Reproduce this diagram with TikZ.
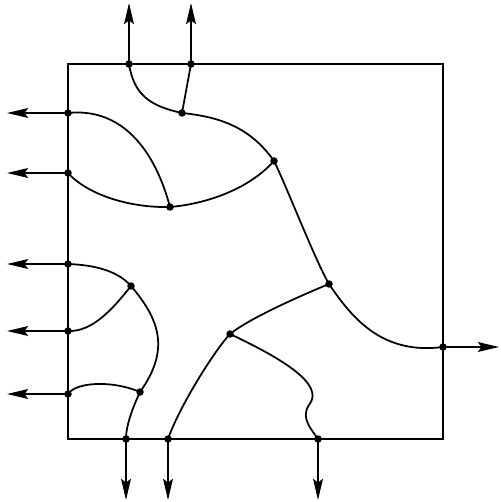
\documentclass[tikz,border=0pt]{standalone}
\usepackage{tikz}
\usetikzlibrary{arrows.meta}

\begin{document}
\begin{tikzpicture} [x = 0.02cm, y = -0.02cm,
	edge/.style = {line width = 1pt},
	exit/.style = {line width = 1pt, -{Stealth[length = 12pt, width = 5.6pt, inset = 2pt]}}]
	\useasboundingbox (0,0) rectangle (500,502);
	\draw [line width = 1.3pt] (68,64) rectangle (443,439);

	% points on the boundary
	\coordinate (t1) at (129,64);
	\coordinate (t2) at (191,64);
	\coordinate (l1) at (68,113);
	\coordinate (l2) at (68,173);
	\coordinate (l3) at (68,264);
	\coordinate (l4) at (68,331);
	\coordinate (l5) at (68,394);
	\coordinate (b1) at (126,439);
	\coordinate (b2) at (168,439);
	\coordinate (b3) at (318,439);
	\coordinate (r1) at (443,347);
	% where the arrows end
	\coordinate (t1e) at (129,3);
	\coordinate (t2e) at (191,3);
	\coordinate (l1e) at (7,113);
	\coordinate (l2e) at (7,173);
	\coordinate (l3e) at (7,264);
	\coordinate (l4e) at (7,331);
	\coordinate (l5e) at (7,394);
	\coordinate (b1e) at (126,500);
	\coordinate (b2e) at (168,500);
	\coordinate (b3e) at (318,500);
	\coordinate (r1e) at (499,347);
	% inner vertices
	\coordinate (a) at (182,113);
	\coordinate (b) at (274,161);
	\coordinate (c) at (170,207);
	\coordinate (d) at (131,286);
	\coordinate (e) at (140,392);
	\coordinate (f) at (329,284);
	\coordinate (g) at (230,334);

	\foreach \p in {t1,t2,l1,l2,l3,l4,l5,b1,b2,b3,r1}
		\draw [exit] (\p) -- (\p e);

	\draw [edge] (t1) .. controls (134,95) and (150,106) .. (a);
	\draw [edge] (t2) -- (a);
	\draw [edge] (a) .. controls (220,117) and (250,127) .. (b);
	\draw [edge] (l1) .. controls (115,108) and (152,140) .. (c);
	\draw [edge] (l2) .. controls (88,195) and (130,208) .. (c);
	\draw [edge] (c) .. controls (205,204) and (248,190) .. (b);
	\draw [edge] (b) .. controls (286,185) and (315,260) .. (f);
	\draw [edge] (f) .. controls (352,318) and (382,355) .. (r1);
	\draw [edge] (f) .. controls (300,296) and (250,318) .. (g);
	\draw [edge] (g) .. controls (215,350) and (180,405) .. (b2);
	\draw [edge] (g) .. controls (285,360) and (325,385) .. (309,405)
		.. controls (300,418) and (312,430) .. (b3);
	\draw [edge] (l3) .. controls (95,265) and (118,271) .. (d);
	\draw [edge] (l4) .. controls (92,332) and (112,310) .. (d);
	\draw [edge] (d) .. controls (160,320) and (170,350) .. (e);
	\draw [edge] (l5) .. controls (76,382) and (112,380) .. (e);
	\draw [edge] (e) .. controls (133,407) and (126,425) .. (b1);

	\foreach \p in {t1,t2,l1,l2,l3,l4,l5,b1,b2,b3,r1,a,b,c,d,e,f,g}
		\fill (\p) circle (0.075cm);
\end{tikzpicture}
\end{document}
